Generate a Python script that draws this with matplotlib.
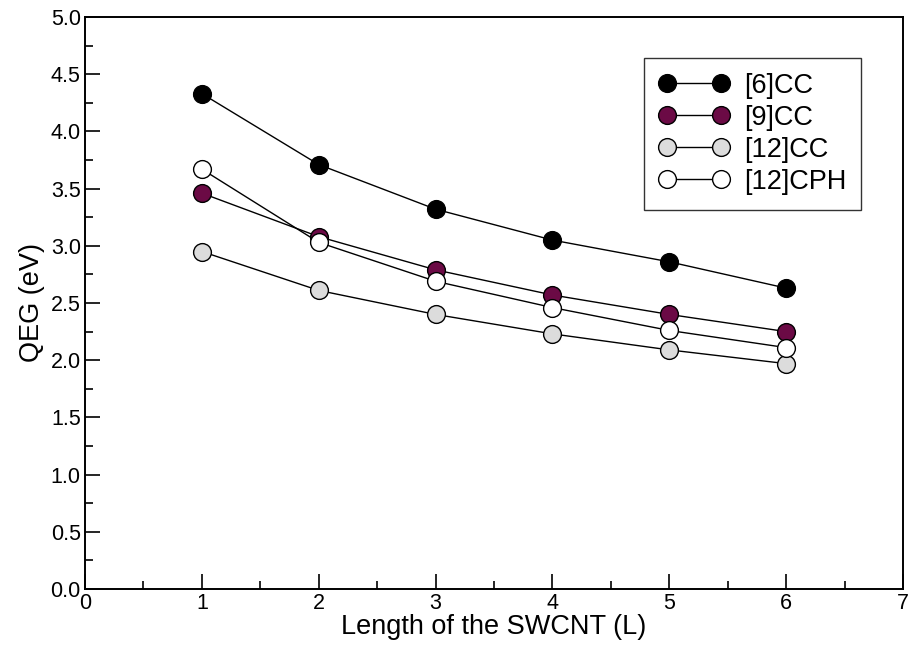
import matplotlib.pyplot as plt
from matplotlib.ticker import MultipleLocator

plt.rcParams["font.family"] = ["Liberation Sans", "DejaVu Sans"]

lengths = [1, 2, 3, 4, 5, 6]
qeg_6cc = [4.33, 3.71, 3.32, 3.05, 2.86, 2.63]
qeg_9cc = [3.46, 3.08, 2.79, 2.57, 2.40, 2.25]
qeg_12cc = [2.95, 2.61, 2.40, 2.23, 2.09, 1.97]
qeg_12cph = [3.67, 3.03, 2.69, 2.46, 2.26, 2.11]

labels = ["[6]CC", "[9]CC", "[12]CC", "[12]CPH"]
colors = ["#000000", "#6b0a45", "#dcdcdc", "#ffffff"]

fig = plt.figure(figsize=(9.11, 6.55), dpi=100)
ax = fig.add_axes([85 / 911, 1 - 589 / 655, (903 - 85) / 911, (589 - 17) / 655])

for ys, lab, c in zip([qeg_6cc, qeg_9cc, qeg_12cc, qeg_12cph], labels, colors):
    ax.plot(lengths, ys, color="black", lw=1.0, marker="o",
            markersize=12.8, markerfacecolor=c, markeredgecolor="black",
            markeredgewidth=1.0, label=lab)

ax.set_xlim(0, 7)
ax.set_ylim(0, 5)
ax.xaxis.set_major_locator(MultipleLocator(1))
ax.xaxis.set_minor_locator(MultipleLocator(0.5))
ax.yaxis.set_major_locator(MultipleLocator(0.5))
ax.yaxis.set_minor_locator(MultipleLocator(0.25))
ax.yaxis.set_major_formatter(plt.FormatStrFormatter("%.1f"))
ax.tick_params(which="major", direction="in", length=11, width=1.2,
               labelsize=15.5, pad=3, top=False, right=False)
ax.tick_params(which="minor", direction="in", length=5.5, width=1.2)
for s in ax.spines.values():
    s.set_linewidth(1.4)

ax.set_xlabel("Length of the SWCNT (L)", fontsize=19.5, labelpad=0)
ax.set_ylabel("QEG (eV)", fontsize=19.5, labelpad=4)

leg = ax.legend(loc="upper right", bbox_to_anchor=(861 / 911, 1 - 58 / 655),
                bbox_transform=fig.transFigure, borderaxespad=0,
                numpoints=2, fontsize=19.5, frameon=True, fancybox=False,
                edgecolor="black", handlelength=2.6, borderpad=0.55,
                labelspacing=0.22, handletextpad=0.55)
leg.get_frame().set_linewidth(1.0)

fig.savefig("out.png", dpi=100)
